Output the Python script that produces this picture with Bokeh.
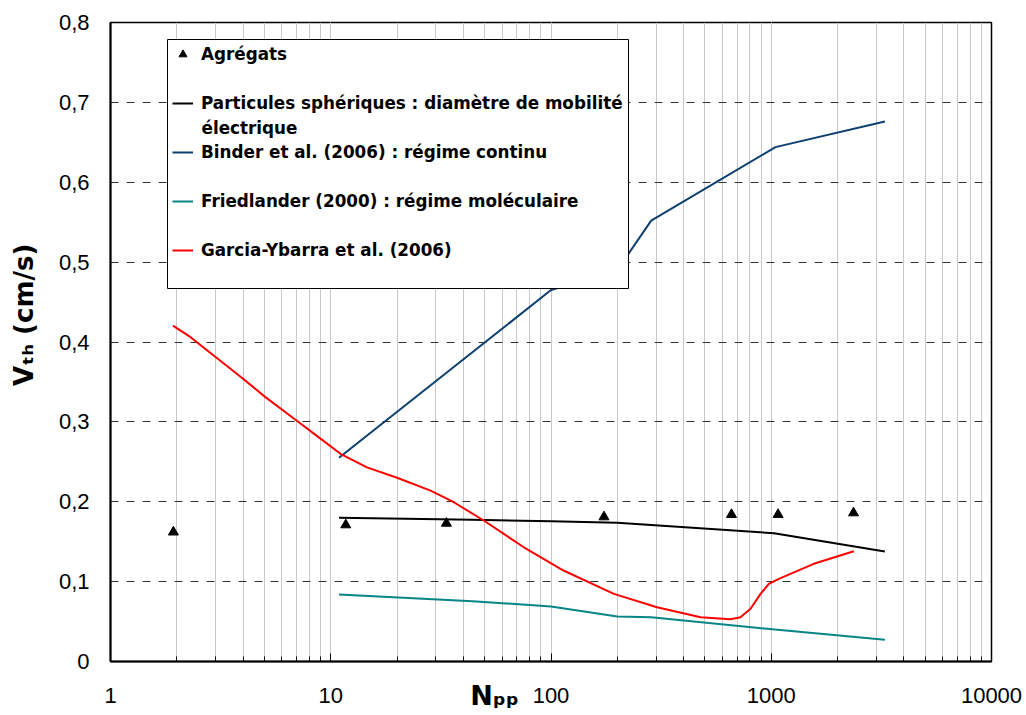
import math
from bokeh.plotting import figure
from bokeh.models import (Range1d, LogTicker, FixedTicker, CustomJSTickFormatter, Legend,
                          LegendItem, BoxAnnotation, Label)
from bokeh.embed import file_html
from bokeh.resources import INLINE

# ---------------- data ----------------
agg_npp = [1.93, 11.7, 33.5, 174, 660, 1074, 2363]
agg_vth = [0.162, 0.171, 0.173, 0.181, 0.184, 0.184, 0.186]

sph_npp = [10.9, 44, 100, 200, 1030, 3280]
sph_vth = [0.180, 0.1774, 0.1757, 0.1736, 0.1606, 0.1377]

binder_npp = [10.9, 100, 200, 285, 1045, 3280]
binder_vth = [0.255, 0.465, 0.490, 0.552, 0.644, 0.676]

fried_npp = [10.9, 44, 100, 200, 285, 1040, 3280]
fried_vth = [0.0839, 0.0755, 0.0688, 0.0563, 0.0555, 0.0400, 0.0272]

garcia_npp = [1.92, 2.31, 2.94, 3.96, 5.05, 7.04, 8.98, 11.07, 14.6, 20.0, 28.4, 36.2,
              49.5, 75.3, 114, 193, 303, 478, 653, 725, 805, 894, 975, 1082, 1560, 2370]
garcia_vth = [0.4205, 0.406, 0.383, 0.355, 0.331, 0.301, 0.279, 0.260, 0.243, 0.230, 0.214, 0.1994,
              0.1765, 0.143, 0.1139, 0.0847, 0.068, 0.0555, 0.053, 0.0555, 0.066, 0.0847, 0.0972,
              0.1035, 0.1223, 0.138]

x_tick_values = [1, 10, 100, 1000, 10000]
x_tick_labels = ["1", "10", "100", "1000", "10000"]
y_tick_values = [0, 0.1, 0.2, 0.3, 0.4, 0.5, 0.6, 0.7, 0.8]
y_tick_labels = ["0", "0,1", "0,2", "0,3", "0,4", "0,5", "0,6", "0,7", "0,8"]

x_title = "N\u209a\u209a"          # N_pp
y_title = "V\u209c\u2095 (cm/s)"    # V_th (cm/s)

legend_labels = ["Agrégats",
                 "Particules sphériques : diamètre de mobilité",
                 "Binder et al. (2006) : régime continu",
                 "Friedlander (2000) : régime moléculaire",
                 "Garcia-Ybarra et al. (2006)"]
legend_second_line = "électrique"

# ---------------- figure ----------------
W, H = 1024, 713
p = figure(width=W, height=H, x_axis_type="log",
           x_range=Range1d(1, 10000), y_range=Range1d(0, 0.8),
           output_backend="svg", toolbar_location=None,
           min_border_left=110, min_border_right=W - 991,
           min_border_top=22, min_border_bottom=H - 661)
p.background_fill_color = "white"
p.border_fill_color = "white"
p.outline_line_color = "black"
p.outline_line_width = 1.5

NBSP = "\u00a0"

# x axis
p.xaxis.ticker = LogTicker(desired_num_ticks=5, num_minor_ticks=10)
p.xaxis.formatter = CustomJSTickFormatter(
    args=dict(vals=x_tick_values, labs=x_tick_labels),
    code="const i = vals.findIndex(v => Math.abs(v - tick) < 1e-6 * v); return i >= 0 ? labs[i] : '';")
p.xaxis.axis_line_width = 2
p.xaxis.axis_line_color = "black"
p.xaxis.major_tick_in = 8
p.xaxis.major_tick_out = 0
p.xaxis.minor_tick_in = 5
p.xaxis.minor_tick_out = 0
p.xaxis.major_tick_line_color = "black"
p.xaxis.minor_tick_line_color = "black"
p.xaxis.major_label_standoff = 26
p.xaxis.major_label_text_font = "Liberation Sans"
p.xaxis.major_label_text_font_size = "22px"
p.xaxis.major_label_text_color = "black"
p.xaxis.axis_label = x_title + NBSP * 12
p.xaxis.axis_label_text_font = "DejaVu Sans"
p.xaxis.axis_label_text_font_style = "bold"
p.xaxis.axis_label_text_font_size = "27px"
p.xaxis.axis_label_text_color = "black"
p.xaxis.axis_label_standoff = -26

# y axis
p.yaxis.ticker = FixedTicker(ticks=y_tick_values)
p.yaxis.formatter = CustomJSTickFormatter(
    args=dict(vals=y_tick_values, labs=y_tick_labels),
    code="const i = vals.findIndex(v => Math.abs(v - tick) < 1e-9); return i >= 0 ? labs[i] : '';")
p.yaxis.axis_line_width = 2
p.yaxis.axis_line_color = "black"
p.yaxis.major_tick_in = 0
p.yaxis.major_tick_out = 0
p.yaxis.minor_tick_line_color = None
p.yaxis.major_label_standoff = 21
p.yaxis.major_label_text_font = "Liberation Sans"
p.yaxis.major_label_text_font_size = "22px"
p.yaxis.major_label_text_color = "black"
p.yaxis.axis_label = NBSP * 6 + y_title
p.yaxis.axis_label_text_font = "DejaVu Sans"
p.yaxis.axis_label_text_font_style = "bold"
p.yaxis.axis_label_text_font_size = "26px"
p.yaxis.axis_label_text_color = "black"
p.yaxis.axis_label_standoff = 17

# grids
p.xgrid.grid_line_color = "#c8c8c8"
p.xgrid.minor_grid_line_color = "#c8c8c8"
p.xgrid.grid_line_width = 1
p.xgrid.minor_grid_line_width = 1
p.ygrid.grid_line_color = "#333333"
p.ygrid.grid_line_dash = "8 8"
p.ygrid.grid_line_width = 1

# series
r_sph = p.line(sph_npp, sph_vth, line_color="black", line_width=2)
r_binder = p.line(binder_npp, binder_vth, line_color="#0d3f70", line_width=2)
r_fried = p.line(fried_npp, fried_vth, line_color="#088585", line_width=2)
r_garcia = p.line(garcia_npp, garcia_vth, line_color="#ff0000", line_width=2)
r_agg = p.scatter(agg_npp, agg_vth, marker="triangle", size=10,
                  fill_color="black", line_color="black")

# legend box
p.add_layout(BoxAnnotation(left=57, right=518, bottom=373, top=622,
                           left_units="screen", right_units="screen",
                           bottom_units="screen", top_units="screen",
                           fill_color="white", fill_alpha=1.0,
                           line_color="black", line_width=1, line_alpha=1.0))

legend = Legend(items=[LegendItem(label=legend_labels[0], renderers=[r_agg]),
                       LegendItem(label=legend_labels[1], renderers=[r_sph]),
                       LegendItem(label=legend_labels[2], renderers=[r_binder]),
                       LegendItem(label=legend_labels[3], renderers=[r_fried]),
                       LegendItem(label=legend_labels[4], renderers=[r_garcia])],
                location=(62, 401), orientation="vertical",
                label_text_font="DejaVu Sans", label_text_font_style="bold",
                label_text_font_size="16.8px", label_text_color="black",
                glyph_width=21, glyph_height=20, label_height=20, label_standoff=8,
                spacing=29, padding=8, margin=0,
                border_line_color=None, background_fill_alpha=0.0)
p.add_layout(legend)

p.add_layout(Label(x=91, y=533.7, x_units="screen", y_units="screen",
                   text=legend_second_line, text_font="DejaVu Sans",
                   text_font_style="bold", text_font_size="16.8px",
                   text_baseline="middle", text_align="left", text_color="black"))

open("out.html", "w").write(file_html(p, INLINE))
